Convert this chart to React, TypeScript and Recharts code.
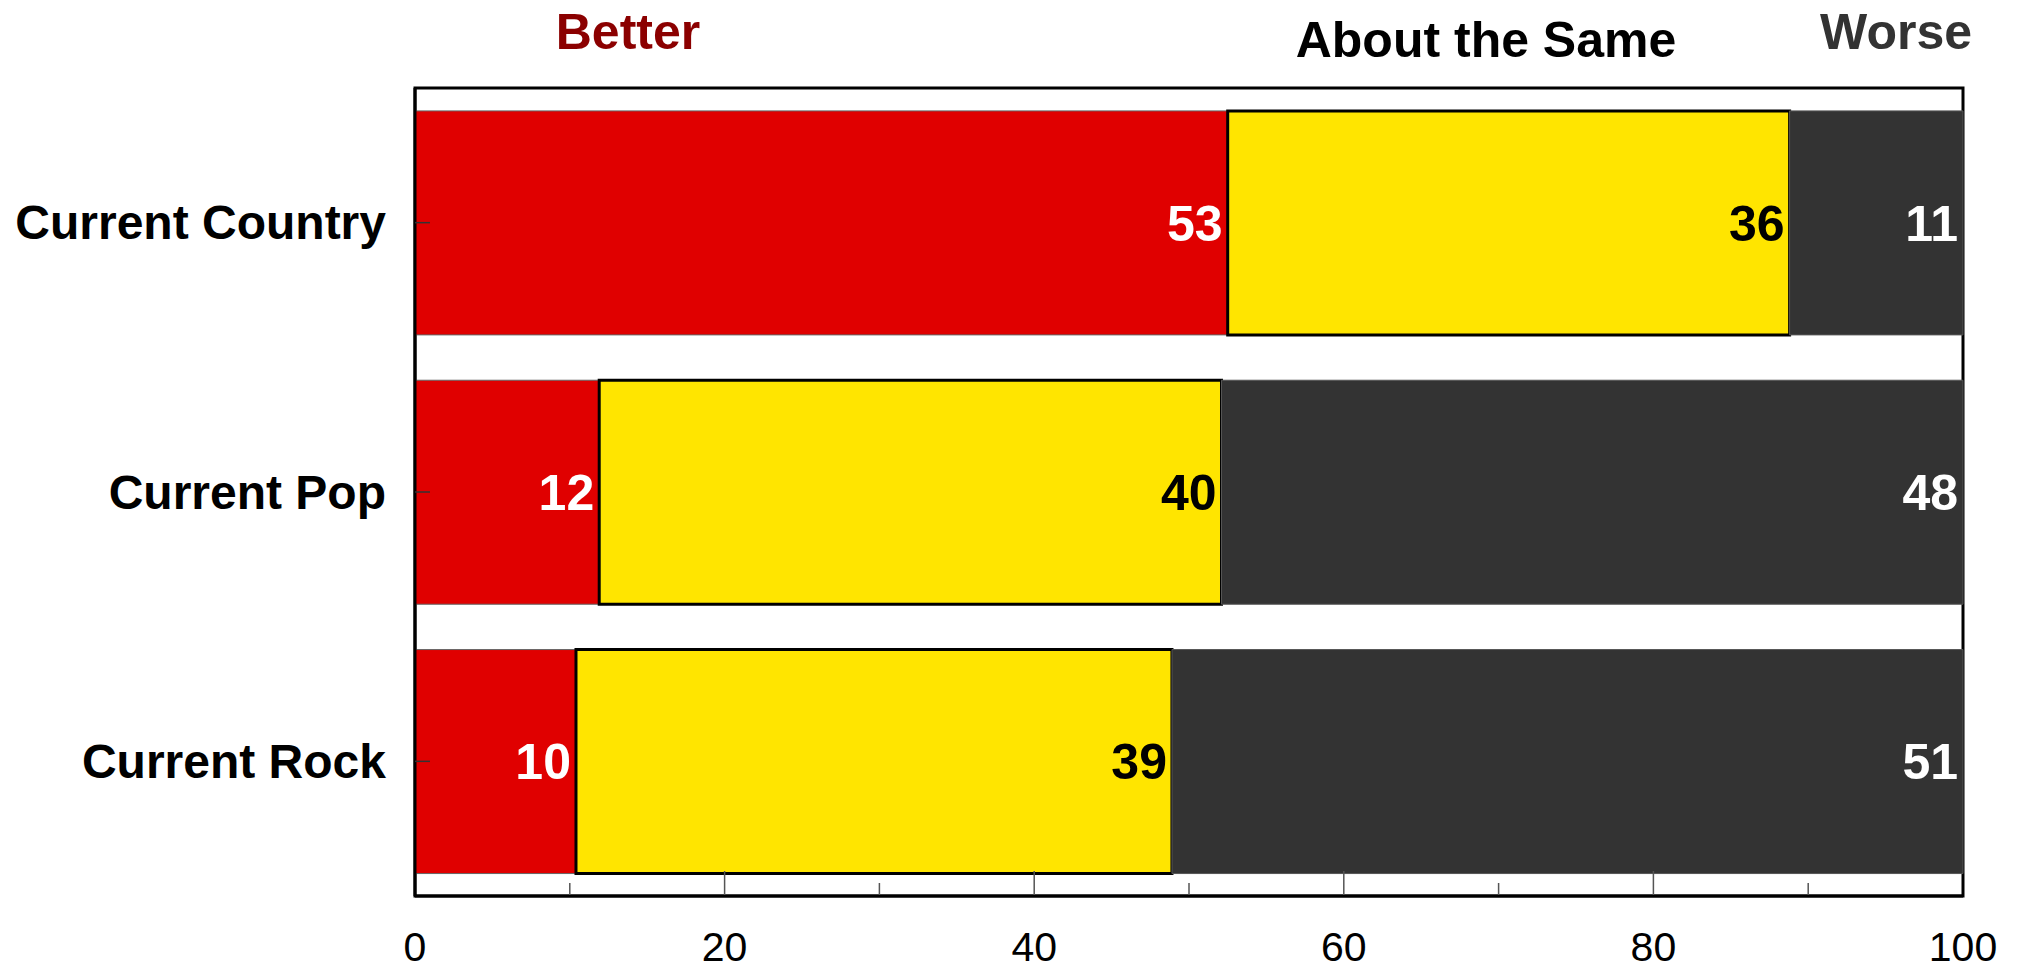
import React from 'react';
import { BarChart, Bar, XAxis, YAxis, LabelList, ReferenceArea } from 'recharts';

// ---- data ----
const categories = ['Current Country', 'Current Pop', 'Current Rock'];
const betterValues = [52.5, 11.9, 10.4];
const sameValues = [36.3, 40.2, 38.5];
const worseValues = [11.2, 47.9, 51.1];
const betterLabels = [53, 12, 10];
const sameLabels = [36, 40, 39];
const worseLabels = [11, 48, 51];
const xTicks = [0, 10, 20, 30, 40, 50, 60, 70, 80, 90, 100];
const xTickLabels = [0, 20, 40, 60, 80, 100];
const seriesNames = ['Better', 'About the Same', 'Worse'];

const data = categories.map((name, i) => ({
  name,
  better: betterValues[i],
  same: sameValues[i],
  worse: worseValues[i],
  betterLabel: betterLabels[i],
  sameLabel: sameLabels[i],
  worseLabel: worseLabels[i],
}));

// ---- styling ----
const FONT = '"Liberation Sans", Arial, Helvetica, sans-serif';
const W = 2020;
const H = 969;
const headerStyle = [
  { x: 628, y: 49, anchor: 'middle', color: '#8B0000' },
  { x: 1486, y: 57, anchor: 'middle', color: '#000000' },
  { x: 1972, y: 49, anchor: 'end', color: '#333333' },
];

const XTick = (props: any) => {
  const { x, y, payload } = props;
  const v = payload.value;
  const major = xTickLabels.includes(v);
  const len = major ? 24 : 12;
  return (
    <g>
      {v !== 0 && v !== 100 && (
        <line x1={x} x2={x} y1={y - 1} y2={y - 1 - len} stroke="#555" strokeWidth={1.5} />
      )}
      {major && (
        <text x={x} y={y + 65} textAnchor="middle" fontFamily={FONT} fontSize={41} fill="#000">
          {v}
        </text>
      )}
    </g>
  );
};

const YTick = (props: any) => {
  const { x, y, payload } = props;
  return (
    <g>
      <line x1={x} x2={x + 15} y1={y} y2={y} stroke="#333" strokeWidth={1.5} />
      <text
        x={x - 29}
        y={y}
        textAnchor="end"
        dominantBaseline="central"
        fontFamily={FONT}
        fontSize={48}
        fontWeight="bold"
        fill="#000"
      >
        {payload.value}
      </text>
    </g>
  );
};

const labelCommon = {
  position: 'insideRight' as const,
  offset: 5,
  fontSize: 50,
  fontWeight: 'bold',
  fontFamily: FONT,
};

export default function App() {
  return (
    <div style={{ position: 'absolute', left: 0, top: 0, width: W, height: H, background: '#fff' }}>
      <BarChart
        width={W}
        height={H}
        data={data}
        layout="vertical"
        margin={{ top: 88, right: 57, bottom: 0, left: 0 }}
        barCategoryGap="8.5%"
      >
        <XAxis
          type="number"
          domain={[0, 100]}
          ticks={xTicks}
          interval={0}
          height={73}
          axisLine={{ stroke: '#000', strokeWidth: 3 }}
          tickLine={false}
          tickSize={0}
          tickMargin={0}
          tick={<XTick />}
        />
        <YAxis
          type="category"
          dataKey="name"
          width={415}
          axisLine={{ stroke: '#000', strokeWidth: 3 }}
          tickLine={false}
          tickSize={0}
          tickMargin={0}
          tick={<YTick />}
        />
        <Bar dataKey="better" name={seriesNames[0]} stackId="a" fill="#E00000" stroke="#666" strokeWidth={1} isAnimationActive={false}>
          <LabelList dataKey="betterLabel" {...labelCommon} fill="#FFFFFF" />
        </Bar>
        <Bar dataKey="same" name={seriesNames[1]} stackId="a" fill="#FFE500" stroke="#000" strokeWidth={3} isAnimationActive={false}>
          <LabelList dataKey="sameLabel" {...labelCommon} fill="#000000" />
        </Bar>
        <Bar dataKey="worse" name={seriesNames[2]} stackId="a" fill="#333333" stroke="#555" strokeWidth={1} isAnimationActive={false}>
          <LabelList dataKey="worseLabel" {...labelCommon} fill="#FFFFFF" />
        </Bar>
        <ReferenceArea
          x1={0}
          x2={100}
          fill="none"
          fillOpacity={0}
          stroke="#000"
          strokeWidth={3}
          strokeOpacity={1}
          ifOverflow="visible"
        />
      </BarChart>
      <svg
        width={W}
        height={H}
        style={{ position: 'absolute', left: 0, top: 0, pointerEvents: 'none' }}
      >
        {seriesNames.map((s, i) => (
          <text
            key={s}
            x={headerStyle[i].x}
            y={headerStyle[i].y}
            textAnchor={headerStyle[i].anchor as any}
            fontFamily={FONT}
            fontSize={50}
            fontWeight="bold"
            fill={headerStyle[i].color}
          >
            {s}
          </text>
        ))}
      </svg>
    </div>
  );
}
